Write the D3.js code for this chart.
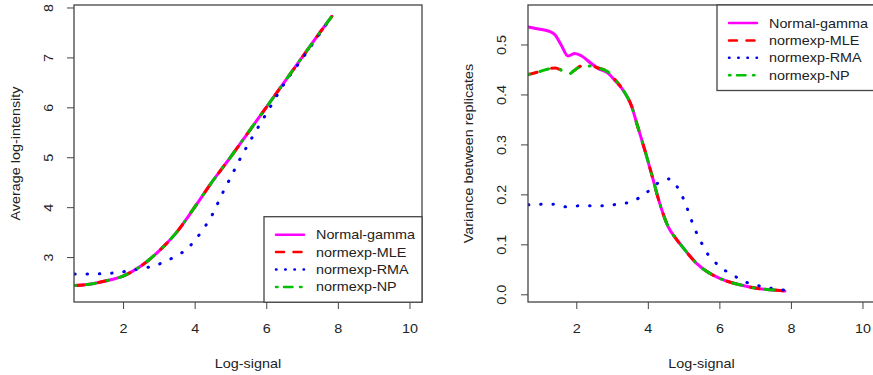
<!DOCTYPE html>
<html lang="en">
<head>
    <meta charset="utf-8">
    <title>Background correction</title>
    <script src="https://cdn.jsdelivr.net/npm/d3@7"></script>
</head>
<style>
    body { margin: 0; background: #fff; }
    text { font-family: "Liberation Sans", Arial, sans-serif; fill: #222; }
</style>
<body>
<script>

 // legend / series names
 var seriesNames = ["Normal-gamma", "normexp-MLE", "normexp-RMA", "normexp-NP"];
 var seriesColors = ["#ff00ff", "#ff0000", "#0000ee", "#00c000"];

 // left panel: average log-intensity vs log-signal
 var xLeft = [0.65, 1.0, 1.5, 2.0, 2.5, 3.0, 3.5, 4.0, 4.5, 5.0, 5.5, 6.0, 6.5, 7.0, 7.5, 7.83];
 var leftGamma = [2.43, 2.45, 2.52, 2.62, 2.82, 3.12, 3.50, 4.00, 4.52, 5.0, 5.5, 6.0, 6.5, 7.0, 7.5, 7.82];
 var leftMLE   = [2.43, 2.45, 2.52, 2.62, 2.82, 3.12, 3.50, 4.00, 4.52, 5.0, 5.5, 6.0, 6.5, 7.0, 7.5, 7.82];
 var leftNP    = [2.43, 2.45, 2.52, 2.62, 2.82, 3.12, 3.50, 4.00, 4.52, 5.0, 5.5, 6.0, 6.5, 7.0, 7.5, 7.82];
 var xLeftRMA = [0.65, 1.1, 1.5, 1.85, 2.2, 2.5, 2.85, 3.2, 3.5, 3.8, 4.0, 4.25, 4.5, 4.75, 5.0, 5.3, 5.6, 6.0, 6.5, 7.0, 7.5, 7.8];
 var leftRMA  = [2.66, 2.66, 2.67, 2.69, 2.73, 2.77, 2.82, 2.92, 3.03, 3.17, 3.33, 3.57, 3.86, 4.24, 4.59, 5.01, 5.39, 5.87, 6.47, 6.97, 7.48, 7.79];

 // right panel: variance between replicates vs log-signal
 var xRight = [0.66, 0.94, 1.22, 1.41, 1.57, 1.77, 1.96, 2.15, 2.4, 2.61, 2.89, 3.08, 3.36, 3.55, 3.69, 3.83,
               3.97, 4.06, 4.15, 4.25, 4.39, 4.57, 4.76, 4.99, 5.36, 5.73, 6.11, 6.57, 7.04, 7.5, 7.83];
 var rightGamma = [0.535, 0.531, 0.527, 0.519, 0.500, 0.477, 0.482, 0.477, 0.463, 0.452, 0.442, 0.428, 0.403, 0.376, 0.342, 0.309,
                   0.275, 0.252, 0.229, 0.202, 0.169, 0.135, 0.114, 0.093, 0.062, 0.042, 0.029, 0.019, 0.012, 0.0086, 0.0066];
 var rightMLE   = [0.440, 0.445, 0.451, 0.453, 0.449, 0.440, 0.449, 0.457, 0.457, 0.453, 0.445, 0.430, 0.403, 0.376, 0.342, 0.309,
                   0.275, 0.252, 0.229, 0.202, 0.169, 0.135, 0.114, 0.093, 0.062, 0.042, 0.029, 0.019, 0.012, 0.0086, 0.0066];
 var rightNP    = [0.440, 0.445, 0.451, 0.453, 0.449, 0.440, 0.449, 0.457, 0.457, 0.453, 0.445, 0.430, 0.403, 0.376, 0.342, 0.309,
                   0.275, 0.252, 0.229, 0.202, 0.169, 0.135, 0.114, 0.093, 0.062, 0.042, 0.029, 0.019, 0.012, 0.0086, 0.0066];
 var xRightRMA = [0.66, 1.03, 1.36, 1.71, 2.06, 2.41, 2.75, 3.12, 3.47, 3.78, 4.06, 4.29, 4.6, 4.83, 4.99, 5.11, 5.22, 5.35,
                  5.5, 5.66, 5.87, 6.11, 6.37, 6.65, 6.99, 7.32, 7.6, 7.8];
 var rightRMA  = [0.179, 0.18, 0.18, 0.175, 0.177, 0.177, 0.177, 0.18, 0.184, 0.194, 0.209, 0.223, 0.231, 0.214, 0.192, 0.17, 0.148, 0.125,
                  0.103, 0.082, 0.065, 0.05, 0.039, 0.027, 0.019, 0.014, 0.01, 0.0086];

 // tick labels
 var xTicks = [2, 4, 6, 8, 10];
 var leftYTicks = [3, 4, 5, 6, 7, 8];
 var rightYTicks = [0, 0.1, 0.2, 0.3, 0.4, 0.5];

 var curveDash = [null, "9,15", "0.5,11.8", "1,11,9,12"];
 var keyDash = [null, "8,9.5", "0.5,8.7", "1.5,6.5,8.5,7.5"];
 // the original font is wide: stretch the text a bit
 var FS = 12.5;
 var STRETCH = "scale(1.15,1)";

 var svg = d3.select("body").append("svg")
             .attr("width", 873)
             .attr("height", 375);

 drawPanel({
     id: "left", x0: 74, x1: 422, y0: 5, y1: 302,
     xDomain: [0.63, 10.35], yDomain: [2.1, 8.05],
     yTicks: leftYTicks, yFmt: d3.format("d"),
     yTitle: "Average log-intensity", yTitleX: 19.5, yLabelOff: 21.2,
     series: [[xLeft, leftGamma], [xLeft, leftMLE], [xLeftRMA, leftRMA], [xLeft, leftNP]],
     legendTop: 216.7
 });

 drawPanel({
     id: "right", x0: 528, x1: 875, y0: 5, y1: 302,
     xDomain: [0.65, 10.35], yDomain: [-0.0154, 0.579],
     yTicks: rightYTicks, yFmt: d3.format(".1f"),
     yTitle: "Variance between replicates", yTitleX: 472.5, yLabelOff: 21.8,
     series: [[xRight, rightGamma], [xRight, rightMLE], [xRightRMA, rightRMA], [xRight, rightNP]],
     legendTop: 5
 });

 function drawPanel(p) {
     var x = d3.scaleLinear().domain(p.xDomain).range([p.x0, p.x1]);
     var y = d3.scaleLinear().domain(p.yDomain).range([p.y1, p.y0]);
     var g = svg.append("g");

     g.append("clipPath").attr("id", "clip-" + p.id)
      .append("rect")
      .attr("x", p.x0).attr("y", p.y0)
      .attr("width", p.x1 - p.x0).attr("height", p.y1 - p.y0);

     var line = d3.line()
                  .x(function(d) { return x(d[0]); })
                  .y(function(d) { return y(d[1]); })
                  .curve(d3.curveMonotoneX);

     var lines = g.append("g").attr("clip-path", "url(#clip-" + p.id + ")");
     p.series.forEach(function(s, i) {
         var pts = s[0].map(function(v, j) { return [v, s[1][j]]; });
         lines.append("path")
              .attr("d", line(pts))
              .attr("fill", "none")
              .attr("stroke", seriesColors[i])
              .attr("stroke-width", 3)
              .attr("stroke-linecap", "round")
              .attr("stroke-dasharray", curveDash[i]);
     });

     // axes
     var xa = g.append("g")
               .attr("transform", "translate(0," + p.y1 + ")")
               .call(d3.axisBottom(x).tickValues(xTicks).tickSize(7).tickPadding(15.3));
     xa.select(".domain").remove();
     xa.selectAll("line").attr("stroke", "#444");
     xa.selectAll("text")
       .attr("font-size", FS).attr("font-family", null).attr("fill", "#222")
       .attr("transform", STRETCH);

     var ya = g.append("g")
               .attr("transform", "translate(" + p.x0 + ",0)")
               .call(d3.axisLeft(y).tickValues(p.yTicks).tickSize(7).tickFormat(p.yFmt));
     ya.select(".domain").remove();
     ya.selectAll("line").attr("stroke", "#444");
     ya.selectAll("text")
       .attr("font-size", FS).attr("font-family", null).attr("fill", "#222")
       .attr("x", 0).attr("y", -p.yLabelOff).attr("dy", null)
       .attr("text-anchor", "middle")
       .attr("transform", "rotate(-90) " + STRETCH);

     // box
     g.append("rect")
      .attr("x", p.x0).attr("y", p.y0)
      .attr("width", p.x1 - p.x0).attr("height", p.y1 - p.y0)
      .attr("fill", "none").attr("stroke", "#444").attr("stroke-width", 1.3);

     // titles
     g.append("text")
      .attr("transform", "translate(" + ((p.x0 + p.x1) / 2) + ",367.5) " + STRETCH)
      .attr("text-anchor", "middle").attr("font-size", FS)
      .text("Log-signal");
     g.append("text")
      .attr("transform", "translate(" + p.yTitleX + "," + ((p.y0 + p.y1) / 2) + ") rotate(-90) " + STRETCH)
      .attr("text-anchor", "middle").attr("font-size", FS)
      .text(p.yTitle);

     // legend, top right corner of the box
     var lx = p.x1 - 158, ly = p.legendTop;
     var leg = g.append("g").attr("transform", "translate(" + lx + "," + ly + ")");
     leg.append("rect")
        .attr("width", 158).attr("height", 85.5)
        .attr("fill", "#fff").attr("stroke", "#444").attr("stroke-width", 1.3);
     seriesNames.forEach(function(name, i) {
         var ry = 18 + i * 17.4;
         leg.append("line")
            .attr("x1", 12).attr("x2", 40).attr("y1", ry).attr("y2", ry)
            .attr("stroke", seriesColors[i]).attr("stroke-width", 2.5)
            .attr("stroke-linecap", "round")
            .attr("stroke-dasharray", keyDash[i]);
         leg.append("text")
            .attr("transform", "translate(52," + (ry + 4.5) + ") " + STRETCH)
            .attr("font-size", FS)
            .text(name);
     });
 }

</script>
</body>
</html>
